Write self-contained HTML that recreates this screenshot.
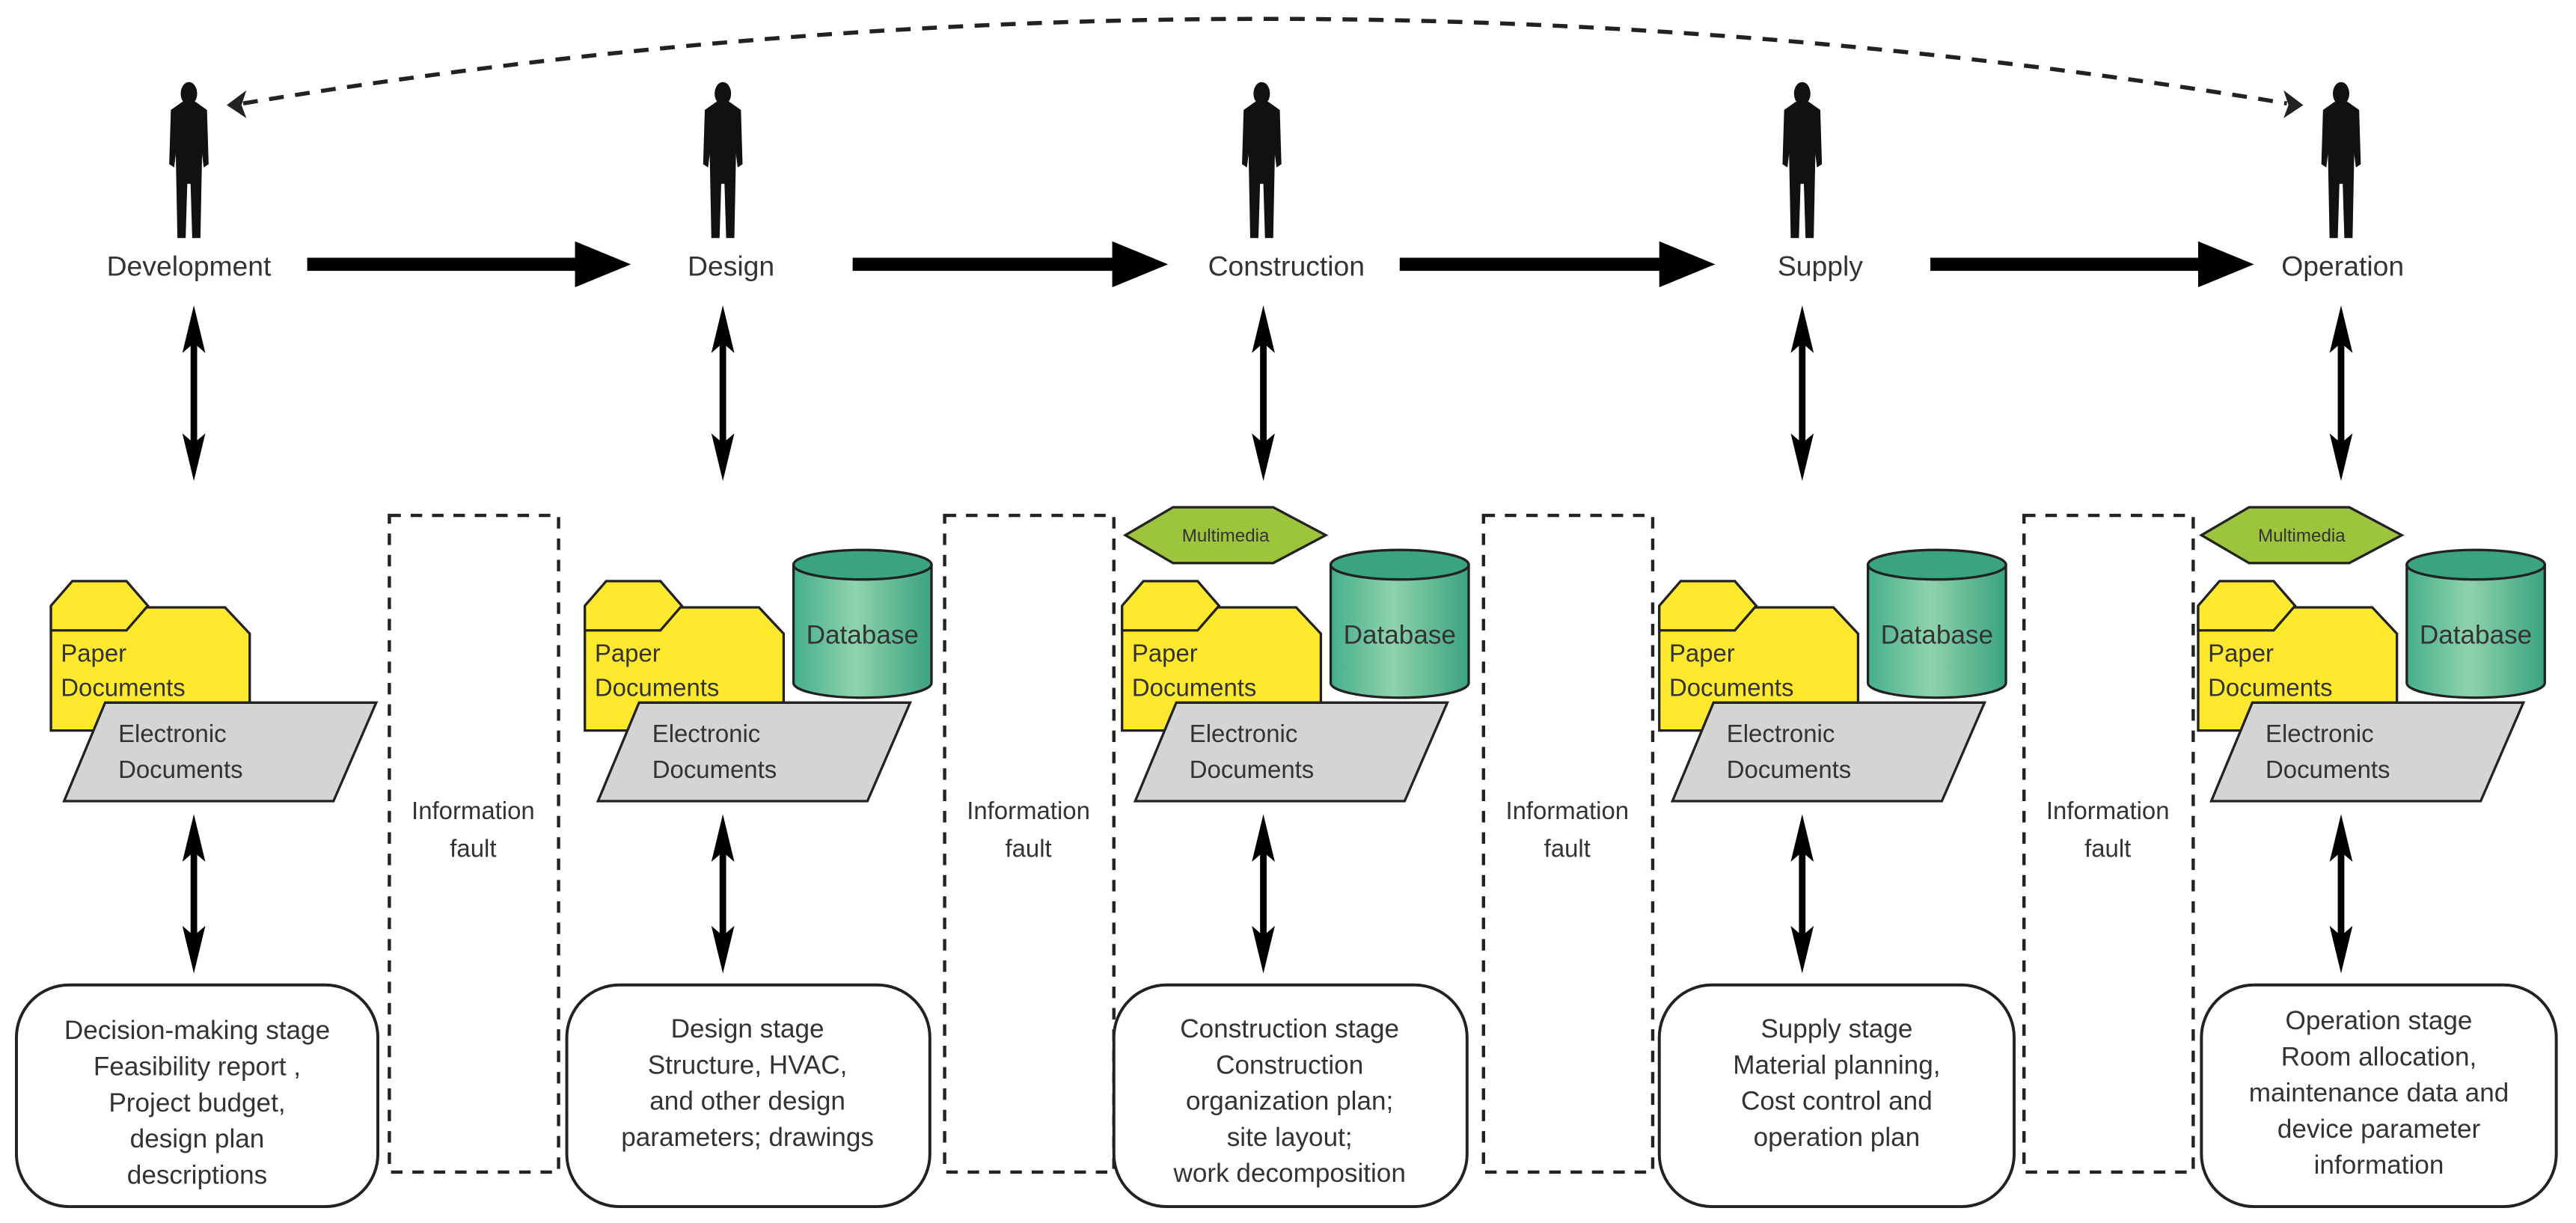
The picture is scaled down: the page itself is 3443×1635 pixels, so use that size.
<!DOCTYPE html>
<html><head><meta charset="utf-8"><style>
html,body{margin:0;padding:0;background:#fff;}
svg{display:block;}
text{font-family:"Liberation Sans",sans-serif;fill:#333;}
</style></head><body>
<svg width="3443" height="1635" viewBox="0 0 1568 745" preserveAspectRatio="none" xmlns="http://www.w3.org/2000/svg">
<defs>
<linearGradient id="db" x1="0" x2="1" y1="0" y2="0">
<stop offset="0" stop-color="#45b08a"/><stop offset="0.45" stop-color="#8fd2ad"/><stop offset="1" stop-color="#3aa47e"/>
</linearGradient>
<g id="person" fill="#111">
<ellipse cx="0" cy="7" rx="5" ry="7"/>
<path d="M-4,12 L4,12 L11,17 L12,50 L9,52 L8,44 L7,95 L2,95 L1,62 L-1,62 L-2,95 L-7,95 L-8,44 L-9,52 L-12,50 L-11,17 Z"/>
</g>
</defs>

<!-- dashed arc -->
<path d="M148,63 Q770,-40 1392,63" fill="none" stroke="#222" stroke-width="2.5" stroke-dasharray="9,7"/>
<path d="M138,64 L150,55 L147,64 L150,72 Z" fill="#222"/>
<path d="M1402,64 L1390,55 L1393,64 L1390,72 Z" fill="#222"/>

<use href="#person" x="115" y="50"/>
<use href="#person" x="440" y="50"/>
<use href="#person" x="768" y="50"/>
<use href="#person" x="1097" y="50"/>
<use href="#person" x="1425" y="50"/>

<g font-size="17" text-anchor="middle">
<text x="115" y="168">Development</text>
<text x="445" y="168">Design</text>
<text x="783" y="168">Construction</text>
<text x="1108" y="168">Supply</text>
<text x="1426" y="168">Operation</text>
</g>

<g fill="#000">
<rect x="187" y="157" width="165" height="8"/><path d="M350,147 L384,161 L350,175 Z"/>
<rect x="519" y="157" width="160" height="8"/><path d="M677,147 L711,161 L677,175 Z"/>
<rect x="852" y="157" width="160" height="8"/><path d="M1010,147 L1044,161 L1010,175 Z"/>
<rect x="1175" y="157" width="165" height="8"/><path d="M1338,147 L1372,161 L1338,175 Z"/>
</g>

<g fill="#000" stroke="#000">
<g id="va1" transform="translate(118,0)">
<line x1="0" y1="200" x2="0" y2="277" stroke-width="4"/>
<path d="M0,186 L-7,215 L0,209 L7,215 Z" stroke="none"/><path d="M0,293 L-7,264 L0,270 L7,264 Z" stroke="none"/>
<line x1="0" y1="510" x2="0" y2="577" stroke-width="4"/>
<path d="M0,496 L-7,525 L0,519 L7,525 Z" stroke="none"/><path d="M0,593 L-7,564 L0,570 L7,564 Z" stroke="none"/>
</g>
<use href="#va1" x="322"/>
<use href="#va1" x="651"/>
<use href="#va1" x="979"/>
<use href="#va1" x="1307"/>
</g>

<g fill="none" stroke="#222" stroke-width="2" stroke-dasharray="7,6">
<rect x="237" y="314" width="103" height="400"/>
<rect x="575" y="314" width="103" height="400"/>
<rect x="903" y="314" width="103" height="400"/>
<rect x="1232" y="314" width="103" height="400"/>
</g>
<g font-size="15" text-anchor="middle">
<text x="288" y="499">Information</text><text x="288" y="522">fault</text>
<text x="626" y="499">Information</text><text x="626" y="522">fault</text>
<text x="954" y="499">Information</text><text x="954" y="522">fault</text>
<text x="1283" y="499">Information</text><text x="1283" y="522">fault</text>
</g>

<g id="docs1" transform="translate(118,0)">
<path d="M-87,370 L-87,445 L34,445 L34,386 L19,370 Z" fill="#ffe92e" stroke="#222" stroke-width="1.5"/>
<path d="M-87,369 L-74,354 L-41,354 L-28,369 L-41,384 L-87,384 Z" fill="#ffe92e" stroke="#222" stroke-width="1.5"/>
<path d="M-54,428 L111,428 L85,488 L-79,488 Z" fill="#d3d4d3" stroke="#222" stroke-width="1.5"/>
<text x="-81" y="403" font-size="15">Paper</text>
<text x="-81" y="424" font-size="15">Documents</text>
<text x="-46" y="452" font-size="15">Electronic</text>
<text x="-46" y="474" font-size="15">Documents</text>
</g>
<g id="dbg" transform="translate(443,0)">
<path d="M-87,370 L-87,445 L34,445 L34,386 L19,370 Z" fill="#ffe92e" stroke="#222" stroke-width="1.5"/>
<path d="M-87,369 L-74,354 L-41,354 L-28,369 L-41,384 L-87,384 Z" fill="#ffe92e" stroke="#222" stroke-width="1.5"/>
<path d="M40,344 L40,416 A42,9 0 0 0 124,416 L124,344 Z" fill="url(#db)" stroke="#222" stroke-width="1.5"/>
<ellipse cx="82" cy="344" rx="42" ry="9" fill="#3aa47e" stroke="#222" stroke-width="1.5"/>
<text x="82" y="392" font-size="16" text-anchor="middle">Database</text>
<path d="M-54,428 L111,428 L85,488 L-79,488 Z" fill="#d3d4d3" stroke="#222" stroke-width="1.5"/>
<text x="-81" y="403" font-size="15">Paper</text>
<text x="-81" y="424" font-size="15">Documents</text>
<text x="-46" y="452" font-size="15">Electronic</text>
<text x="-46" y="474" font-size="15">Documents</text>
</g>
<use href="#dbg" x="327"/>
<use href="#dbg" x="654"/>
<use href="#dbg" x="982"/>

<g id="mm" transform="translate(770,0)">
<path d="M-85,326 L-56,309 L5,309 L37,326 L5,343 L-56,343 Z" fill="#9cc43c" stroke="#222" stroke-width="1.5"/>
<text x="-24" y="330" font-size="11" text-anchor="middle">Multimedia</text>
</g>
<use href="#mm" x="655"/>

<g fill="#fff" stroke="#222" stroke-width="1.8">
<rect x="10" y="600" width="220" height="135" rx="32"/>
<rect x="345" y="600" width="221" height="135" rx="32"/>
<rect x="678" y="600" width="215" height="135" rx="32"/>
<rect x="1010" y="600" width="216" height="135" rx="32"/>
<rect x="1340" y="600" width="216" height="135" rx="32"/>
</g>
<g font-size="16" text-anchor="middle">
<text x="120" y="633">Decision-making stage</text>
<text x="120" y="655">Feasibility report ,</text>
<text x="120" y="677">Project budget,</text>
<text x="120" y="699">design plan</text>
<text x="120" y="721">descriptions</text>

<text x="455" y="632">Design stage</text>
<text x="455" y="654">Structure, HVAC,</text>
<text x="455" y="676">and other design</text>
<text x="455" y="698">parameters; drawings</text>

<text x="785" y="632">Construction stage</text>
<text x="785" y="654">Construction</text>
<text x="785" y="676">organization plan;</text>
<text x="785" y="698">site layout;</text>
<text x="785" y="720">work decomposition</text>

<text x="1118" y="632">Supply stage</text>
<text x="1118" y="654">Material planning,</text>
<text x="1118" y="676">Cost control and</text>
<text x="1118" y="698">operation plan</text>

<text x="1448" y="627">Operation stage</text>
<text x="1448" y="649">Room allocation,</text>
<text x="1448" y="671">maintenance data and</text>
<text x="1448" y="693">device parameter</text>
<text x="1448" y="715">information</text>
</g>
</svg>
</body></html>
